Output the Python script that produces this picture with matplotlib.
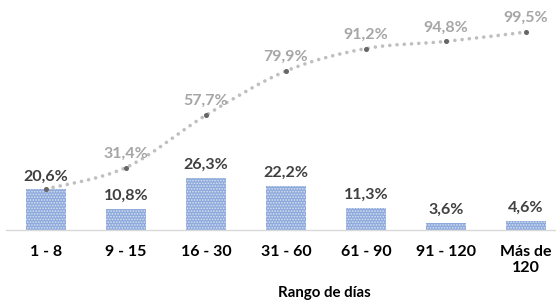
import numpy as np
import matplotlib.pyplot as plt
from matplotlib.path import Path
from matplotlib.patches import PathPatch

# ------------------------------
# Data
# ------------------------------
rangos = ["1 - 8", "9 - 15", "16 - 30", "31 - 60", "61 - 90", "91 - 120", "Más de\n120"]
porcentaje = [20.6, 10.8, 26.3, 22.2, 11.3, 3.6, 4.6]
acumulado = [20.6, 31.4, 57.7, 79.9, 91.2, 94.8, 99.5]

plt.rcParams["font.family"] = ["Lato", "DejaVu Sans"]
plt.rcParams["hatch.linewidth"] = 0.8


def fmt(v):
    return f"{v:.1f}%".replace(".", ",")


def smooth_path(xs, ys):
    # Excel-style smoothed line (Catmull-Rom as cubic Bezier)
    pts = np.column_stack([xs, ys]).astype(float)
    verts = [pts[0]]
    codes = [Path.MOVETO]
    n = len(pts)
    for i in range(n - 1):
        p0 = pts[i - 1] if i > 0 else pts[i]
        p1 = pts[i]
        p2 = pts[i + 1]
        p3 = pts[i + 2] if i + 2 < n else pts[i + 1]
        c1 = p1 + (p2 - p0) / 6.0
        c2 = p2 - (p3 - p1) / 6.0
        verts += [c1, c2, p2]
        codes += [Path.CURVE4] * 3
    return Path(verts, codes)


fig = plt.figure(figsize=(5.56, 3.02), dpi=100)
ax = fig.add_axes([6 / 556, 72 / 302, 560 / 556, 230 / 302])

x = np.arange(len(rangos))
ax.bar(x, porcentaje, width=0.5, color="#8EAADB", edgecolor="#D6E0F4",
       linewidth=0, hatch="......", zorder=2)

for xi, v in zip(x, porcentaje):
    ax.annotate(fmt(v), (xi, v), xytext=(0, 4), textcoords="offset points",
                ha="center", va="bottom", fontsize=11.5, fontweight="bold",
                color="#404040")

# cumulative line
patch = PathPatch(smooth_path(x, acumulado), fill=False, edgecolor="#BFBFBF",
                  linewidth=2.6, linestyle=(0, (0.01, 2.0)), capstyle="round",
                  zorder=3)
ax.add_patch(patch)
ax.plot(x, acumulado, linestyle="none", marker="o", markersize=2.6,
        color="#666666", zorder=4)

# first cumulative label is hidden behind the bar label in the original
for xi, v in list(zip(x, acumulado))[1:]:
    ax.annotate(fmt(v), (xi, v), xytext=(0, 5), textcoords="offset points",
                ha="center", va="bottom", fontsize=11.5, fontweight="bold",
                color="#A6A6A6", zorder=5)

ax.set_xlim(-0.5, 6.5)
ax.set_ylim(0, 115.6)
ax.set_xticks(x)
ax.set_xticklabels(rangos, fontsize=11.5, fontweight="bold", color="#000000")
ax.tick_params(axis="x", length=0, pad=11)
ax.set_yticks([])
for s in ["top", "right", "left"]:
    ax.spines[s].set_visible(False)
ax.spines["bottom"].set_color("#D9D9D9")
ax.spines["bottom"].set_linewidth(1)

fig.text(324 / 556, 1 - 293 / 302, "Rango de días", ha="center", va="center",
         fontsize=10.8, fontweight="bold", color="#000000")

fig.savefig("out.png", dpi=100)
